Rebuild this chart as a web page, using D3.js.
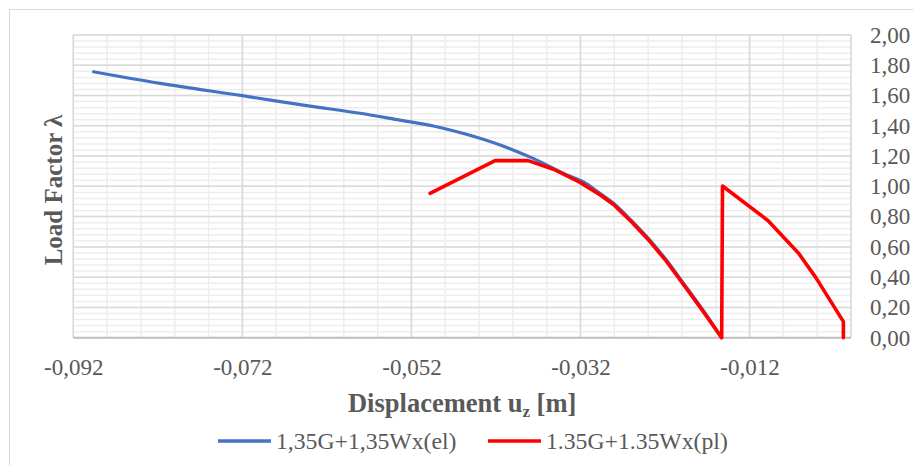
<!DOCTYPE html>
<html>
<head>
<meta charset="utf-8">
<script src="https://cdn.jsdelivr.net/npm/d3@7"></script>
<style>
  body { margin: 0; background: #fff; }
  text { font-family: "Liberation Serif", "Times New Roman", serif; fill: #595959; }
</style>
</head>
<body>
<svg class="chart"></svg>
<script>
// elastic curve (u_z [m], load factor)
var elU = [-0.0896, -0.0817, -0.0720, -0.0640, -0.0581, -0.0534, -0.0494, -0.0455, -0.0415, -0.0376, -0.0336, -0.0317, -0.0297, -0.0281, -0.0260, -0.0238, -0.0218, -0.0198, -0.0176, -0.0153];
var elL = [1.757, 1.680, 1.599, 1.530, 1.483, 1.438, 1.399, 1.344, 1.273, 1.185, 1.075, 1.031, 0.954, 0.888, 0.775, 0.645, 0.510, 0.359, 0.190, 0.0];
// plastic curve
var plU = [-0.0498, -0.0421, -0.0382, -0.0352, -0.0321, -0.0297, -0.0281, -0.0260, -0.0238, -0.0218, -0.0198, -0.0176, -0.0153, -0.0152, -0.0098, -0.0062, -0.0041, -0.0009, -0.0009];
var plL = [0.954, 1.170, 1.170, 1.113, 1.028, 0.944, 0.880, 0.768, 0.637, 0.502, 0.350, 0.182, 0.0, 1.002, 0.773, 0.558, 0.392, 0.106, 0.0];

var xTicks = [-0.092, -0.072, -0.052, -0.032, -0.012];
var yTicks = [0, 0.2, 0.4, 0.6, 0.8, 1.0, 1.2, 1.4, 1.6, 1.8, 2.0];
var seriesNames = ["1,35G+1,35Wx(el)", "1.35G+1.35Wx(pl)"];
var seriesColors = ["#4472C4", "#FF0000"];

var W = 913, H = 465;
var pLeft = 73.3, pRight = 851, pTop = 35, pBottom = 337.7;
var serif = '"Liberation Serif", "Times New Roman", serif';

var svg = d3.select(".chart").attr("width", W).attr("height", H);

// chart area border
svg.append("rect").attr("x", 9.5).attr("y", 9.5).attr("width", W + 10).attr("height", H + 10)
   .attr("fill", "#fff").attr("stroke", "#d9d9d9");

var x = d3.scaleLinear().domain([-0.092, 0]).range([pLeft, pRight]);
var y = d3.scaleLinear().domain([0, 2]).range([pBottom, pTop]);

var comma = function(f) { return function(d) { return d3.format(f)(d).replace(".", ",").replace("−", "-"); }; };

// minor gridlines
var minorX = d3.range(-0.092, 0.0001, 0.004);
var minorY = d3.range(0, 2.0001, 0.04);
svg.append("g").selectAll("line").data(minorX).enter().append("line")
   .attr("x1", function(d) { return x(d); }).attr("x2", function(d) { return x(d); })
   .attr("y1", pTop).attr("y2", pBottom)
   .attr("stroke", "#ededed").attr("stroke-width", 1.5);
svg.append("g").selectAll("line").data(minorY).enter().append("line")
   .attr("y1", function(d) { return y(d); }).attr("y2", function(d) { return y(d); })
   .attr("x1", pLeft).attr("x2", pRight)
   .attr("stroke", "#ededed").attr("stroke-width", 1.5);

// major gridlines
svg.append("g").selectAll("line").data(xTicks.concat([0])).enter().append("line")
   .attr("x1", function(d) { return x(d); }).attr("x2", function(d) { return x(d); })
   .attr("y1", pTop).attr("y2", pBottom)
   .attr("stroke", "#d9d9d9").attr("stroke-width", 1.5);
svg.append("g").selectAll("line").data(yTicks).enter().append("line")
   .attr("y1", function(d) { return y(d); }).attr("y2", function(d) { return y(d); })
   .attr("x1", pLeft).attr("x2", pRight)
   .attr("stroke", function(d) { return d === 0 ? "#bfbfbf" : "#d9d9d9"; })
   .attr("stroke-width", function(d) { return d === 0 ? 2 : 1.5; });

// tick labels
var xAxis = svg.append("g").attr("transform", "translate(0," + pBottom + ")")
   .call(d3.axisBottom(x).tickValues(xTicks).tickFormat(comma(".3f")).tickSize(0).tickPadding(21));
xAxis.select(".domain").remove();
xAxis.attr("font-family", serif).attr("font-size", 23);
xAxis.selectAll("text").style("font-family", serif).attr("fill", "#595959");

var yAxis = svg.append("g").attr("transform", "translate(" + pRight + ",0)")
   .call(d3.axisRight(y).tickValues(yTicks).tickFormat(comma(".2f")).tickSize(0).tickPadding(19));
yAxis.select(".domain").remove();
yAxis.attr("font-family", serif).attr("font-size", 23);
yAxis.selectAll("text").style("font-family", serif).attr("fill", "#595959");

// series
var el = d3.zip(elU, elL), pl = d3.zip(plU, plL);
svg.append("path").datum(el)
   .attr("d", d3.line().x(function(d) { return x(d[0]); }).y(function(d) { return y(d[1]); }).curve(d3.curveMonotoneX))
   .attr("fill", "none").attr("stroke", seriesColors[0]).attr("stroke-width", 3.2).attr("stroke-linecap", "round");
svg.append("path").datum(pl)
   .attr("d", d3.line().x(function(d) { return x(d[0]); }).y(function(d) { return y(d[1]); }))
   .attr("fill", "none").attr("stroke", seriesColors[1]).attr("stroke-width", 3.6)
   .attr("stroke-linecap", "round").attr("stroke-linejoin", "round");

// axis titles
svg.append("text").attr("x", (pLeft + pRight) / 2).attr("y", 412)
   .attr("text-anchor", "middle").style("font-size", "26.5px").style("font-weight", "bold")
   .html('Displacement u<tspan baseline-shift="-30%" font-size="17px">z</tspan> [m]');

svg.append("text").attr("transform", "translate(62,190) rotate(-90)")
   .attr("text-anchor", "middle").style("font-size", "25px").style("font-weight", "bold")
   .text("Load Factor λ");

// legend
var legendX = [218, 488];
var lg = svg.append("g").selectAll("g").data(seriesNames).enter().append("g")
   .attr("transform", function(d, i) { return "translate(" + legendX[i] + ",441)"; });
lg.append("line").attr("x1", 0).attr("x2", 53).attr("y1", 0).attr("y2", 0)
   .attr("stroke", function(d, i) { return seriesColors[i]; }).attr("stroke-width", 3.6);
lg.append("text").attr("x", 58).attr("y", 8).style("font-size", "23.7px").text(function(d) { return d; });
</script>
</body>
</html>
